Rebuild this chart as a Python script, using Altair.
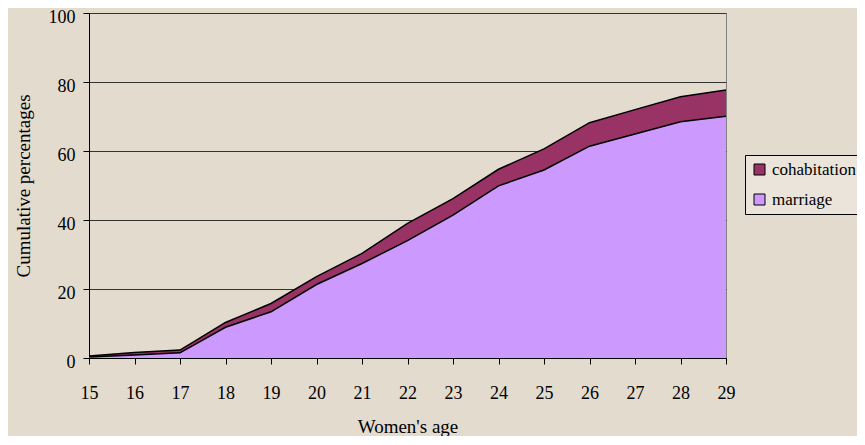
import altair as alt
import pandas as pd

ages = list(range(15, 30))
marriage = [0.3, 0.9, 1.5, 8.9, 13.4, 21.3, 27.4, 34.0, 41.4, 49.9, 54.5, 61.4, 64.9, 68.5, 70.1]
cohabitation = [0.3, 0.7, 0.8, 1.4, 2.4, 2.3, 2.9, 5.0, 4.8, 4.8, 6.1, 6.8, 7.1, 7.2, 7.6]
series_names = ["cohabitation", "marriage"]
series_colors = ["#993366", "#CC99FF"]

rows = []
for a, m, c in zip(ages, marriage, cohabitation):
    rows.append({"age": a, "series": "marriage", "y0": 0.0, "y1": m})
    rows.append({"age": a, "series": "cohabitation", "y0": m, "y1": m + c})
df = pd.DataFrame(rows)

FONT = "Liberation Serif"
BG = "#E2DBCE"

x = alt.X("age:Q", scale=alt.Scale(domain=[15, 29], nice=False, zero=False),
          axis=alt.Axis(values=ages, format="d", title="Women's age", grid=False,
                        tickSize=6, tickColor="black", domainColor="black",
                        labelFlush=False, labelPadding=20, labelFontSize=18,
                        labelFont=FONT, labelColor="black",
                        titleFont=FONT, titleFontSize=19, titleFontWeight="normal",
                        titleColor="black", titleY=68, titleBaseline="middle"))
y_axis = alt.Axis(values=[0, 20, 40, 60, 80, 100], title="Cumulative percentages",
                  grid=True, gridColor="#333333", gridWidth=1, tickSize=6,
                  tickColor="black", domainColor="black", labelPadding=8,
                  labelOffset=4, labelFlush=False,
                  labelFontSize=18, labelFont=FONT, labelColor="black",
                  titleFont=FONT, titleFontSize=19, titleFontWeight="normal",
                  titleColor="black", titleX=-66, titleY=172.5, titleAngle=270,
                  titleBaseline="middle", titleAlign="center")

areas = alt.Chart(df).mark_area(opacity=1, strokeWidth=0).encode(
    x=x,
    y=alt.Y("y1:Q", scale=alt.Scale(domain=[0, 100], nice=False), axis=y_axis),
    y2="y0:Q",
    color=alt.Color("series:N",
                    scale=alt.Scale(domain=series_names, range=series_colors),
                    legend=alt.Legend(title=None, orient="none", legendX=656, legendY=142,
                                      symbolType="square", symbolSize=121,
                                      symbolStrokeColor="black", symbolStrokeWidth=1,
                                      symbolOpacity=1,
                                      labelFont=FONT, labelFontSize=17, labelColor="black",
                                      labelOffset=4, rowPadding=12, padding=6,
                                      strokeColor="black", fillColor="#EAE4DA")),
    order=alt.Order("series:N"),
)

lines = alt.Chart(df).mark_line(color="black", strokeWidth=1.5).encode(
    x="age:Q",
    y="y1:Q",
    detail="series:N",
)

chart = alt.layer(areas, lines).properties(
    width=637, height=345,
    autosize=alt.AutoSizeParams(type="none"),
    padding={"left": 81, "top": 5, "right": 131, "bottom": 78},
    background=BG,
).configure_view(stroke="#808080", strokeWidth=1)

chart.save("out.html", embed_options={"renderer": "svg", "actions": False})
